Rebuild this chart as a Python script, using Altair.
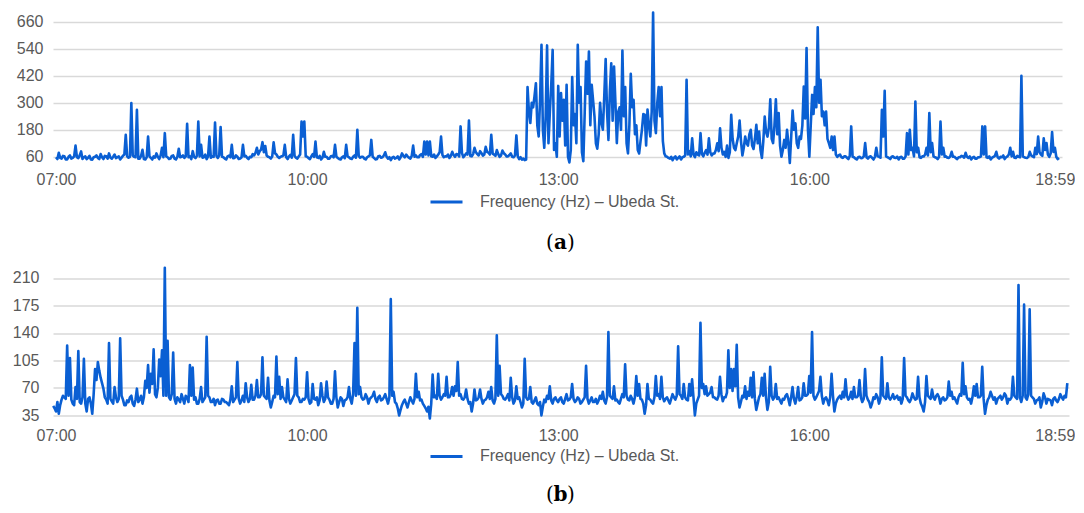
import altair as alt
import pandas as pd

SERIES = "Frequency (Hz) – Ubeda St."
BLUE = "#0a5fd3"
GRAY = "#595959"
GRID = "#d9d9d9"
FONT = "Liberation Sans"

# one sample per minute, minutes after 07:00
STEP = 1
A_START = 0
B_START = -2

A_VALUES = [
    58, 50, 78, 55, 52, 64, 62, 48, 48, 60, 66, 52, 55, 62, 110, 58, 54, 66, 84, 50,
    58, 62, 50, 56, 64, 48, 47, 58, 60, 66, 55, 50, 72, 58, 50, 64, 62, 52, 75, 56,
    52, 60, 70, 54, 58, 62, 48, 56, 65, 70, 158, 62, 56, 60, 299, 66, 60, 58, 269, 52,
    52, 64, 91, 50, 48, 58, 150, 62, 55, 48, 62, 56, 75, 60, 50, 66, 100, 58, 165, 62,
    58, 50, 52, 64, 66, 52, 48, 60, 96, 58, 60, 66, 55, 62, 207, 58, 62, 50, 85, 60,
    54, 64, 217, 62, 113, 56, 58, 70, 50, 62, 150, 56, 62, 60, 212, 64, 55, 66, 192, 60,
    58, 52, 48, 62, 65, 58, 113, 54, 55, 66, 60, 50, 52, 58, 113, 62, 64, 56, 50, 60,
    58, 72, 66, 78, 100, 70, 85, 92, 125, 80, 108, 66, 60, 58, 52, 62, 124, 76, 70, 60,
    55, 60, 62, 66, 113, 58, 50, 62, 68, 56, 158, 64, 56, 52, 62, 70, 217, 150, 217, 62,
    60, 54, 50, 62, 72, 60, 128, 58, 55, 64, 48, 56, 82, 60, 60, 52, 52, 62, 64, 58,
    113, 60, 55, 50, 48, 58, 62, 54, 113, 62, 58, 52, 50, 60, 66, 56, 180, 64, 56, 60,
    60, 52, 48, 58, 62, 66, 135, 60, 55, 48, 50, 62, 64, 56, 58, 66, 80, 60, 52, 58,
    45, 56, 60, 52, 55, 62, 48, 58, 75, 64, 58, 70, 62, 56, 52, 64, 110, 60, 66, 58,
    58, 68, 72, 60, 128, 70, 128, 66, 128, 62, 60, 70, 55, 62, 70, 80, 150, 68, 58, 62,
    62, 70, 55, 64, 82, 68, 60, 72, 70, 62, 195, 76, 58, 66, 75, 70, 221, 64, 62, 72,
    100, 80, 72, 66, 85, 76, 65, 70, 104, 82, 78, 70, 158, 74, 70, 64, 90, 72, 60, 66,
    88, 76, 70, 62, 62, 68, 75, 60, 58, 66, 155, 62, 50, 58, 47, 52, 45, 48, 370, 260,
    210, 300, 280, 330, 387, 200, 150, 320, 558, 180, 100, 240, 555, 120, 260, 380, 535, 90, 120, 60,
    375, 150, 343, 220, 313, 110, 380, 60, 35, 90, 414, 200, 250, 120, 558, 300, 370, 80, 40, 260,
    483, 340, 528, 200, 380, 310, 239, 120, 96, 160, 300, 210, 180, 330, 494, 260, 135, 350, 476, 220,
    461, 300, 121, 260, 280, 180, 532, 240, 370, 120, 75, 200, 429, 280, 313, 160, 200, 90, 75, 130,
    180, 250, 247, 110, 270, 200, 150, 260, 701, 220, 165, 300, 370, 240, 370, 130, 75, 62, 60, 55,
    52, 60, 45, 56, 62, 48, 55, 62, 48, 58, 60, 66, 402, 70, 85, 62, 142, 70, 58, 80,
    70, 66, 165, 72, 62, 78, 90, 70, 142, 80, 66, 74, 75, 90, 120, 85, 187, 100, 70, 82,
    60, 110, 55, 80, 247, 140, 100, 90, 121, 150, 221, 130, 66, 100, 150, 120, 110, 160, 180, 110,
    95, 140, 202, 120, 172, 90, 55, 130, 239, 170, 150, 190, 316, 140, 121, 200, 316, 160, 254, 110,
    60, 90, 135, 100, 180, 120, 33, 150, 266, 180, 209, 120, 100, 150, 140, 200, 372, 230, 543, 180,
    60, 200, 335, 250, 370, 280, 636, 300, 402, 240, 261, 200, 261, 140, 121, 100, 150, 90, 150, 70,
    60, 66, 70, 58, 55, 62, 62, 56, 50, 64, 195, 60, 58, 52, 48, 58, 60, 54, 55, 62,
    121, 58, 52, 60, 62, 55, 48, 60, 100, 62, 60, 56, 269, 150, 353, 62, 58, 55, 50, 60,
    62, 56, 55, 60, 48, 58, 60, 52, 52, 62, 165, 70, 180, 90, 100, 62, 306, 80, 100, 58,
    55, 62, 62, 70, 100, 66, 254, 80, 121, 62, 58, 56, 50, 60, 217, 70, 100, 60, 62, 56,
    55, 62, 82, 60, 60, 54, 50, 58, 58, 64, 62, 56, 78, 60, 55, 62, 48, 56, 60, 52,
    52, 58, 58, 62, 195, 70, 195, 58, 55, 62, 48, 56, 60, 64, 82, 58, 52, 60, 58, 66,
    50, 58, 62, 70, 100, 62, 82, 56, 55, 64, 60, 58, 420, 62, 58, 56, 55, 60, 82, 66,
    62, 58, 100, 72, 150, 80, 70, 64, 142, 90, 121, 70, 60, 76, 170, 82, 100, 60, 50, 55,
]

B_VALUES = [
    47, 44, 40, 52, 37, 48, 55, 60, 58, 56, 124, 60, 108, 55, 50, 48, 71, 56, 117, 52,
    50, 58, 107, 50, 40, 56, 58, 50, 37, 62, 94, 80, 103, 92, 83, 76, 69, 58, 55, 50,
    127, 56, 53, 50, 71, 58, 52, 56, 133, 60, 55, 48, 48, 54, 52, 58, 60, 50, 47, 55,
    69, 52, 55, 60, 50, 58, 79, 70, 99, 64, 88, 75, 119, 62, 58, 70, 106, 85, 118, 60,
    223, 60, 130, 58, 55, 62, 115, 56, 50, 58, 55, 52, 62, 56, 50, 60, 58, 52, 99, 60,
    96, 55, 58, 50, 50, 56, 71, 52, 55, 58, 135, 60, 58, 52, 52, 56, 48, 54, 55, 50,
    50, 56, 55, 52, 52, 50, 48, 55, 72, 52, 55, 58, 103, 56, 50, 54, 60, 52, 76, 58,
    52, 56, 74, 55, 55, 60, 80, 58, 58, 62, 109, 60, 58, 56, 83, 54, 45, 52, 60, 58,
    110, 62, 84, 56, 71, 58, 55, 52, 81, 56, 50, 54, 58, 62, 108, 60, 58, 52, 52, 56,
    55, 58, 90, 56, 50, 52, 75, 56, 55, 58, 48, 54, 76, 60, 52, 56, 78, 58, 55, 50,
    50, 56, 91, 58, 45, 52, 58, 56, 47, 54, 55, 58, 71, 56, 50, 62, 127, 60, 172, 62,
    71, 58, 55, 56, 62, 58, 50, 56, 58, 60, 65, 56, 52, 58, 60, 54, 55, 58, 62, 56,
    50, 58, 183, 60, 65, 52, 50, 44, 35, 42, 48, 52, 55, 50, 45, 52, 58, 54, 50, 56,
    88, 58, 65, 54, 55, 50, 47, 44, 40, 46, 31, 50, 87, 58, 60, 56, 88, 60, 55, 58,
    62, 60, 84, 58, 58, 62, 71, 60, 72, 66, 103, 60, 62, 56, 55, 58, 68, 56, 50, 52,
    40, 50, 68, 54, 55, 58, 68, 56, 50, 54, 55, 58, 65, 56, 71, 54, 50, 56, 137, 60,
    98, 62, 60, 56, 55, 58, 62, 54, 83, 58, 50, 54, 72, 56, 58, 52, 45, 50, 107, 58,
    55, 56, 71, 52, 50, 54, 58, 50, 48, 52, 35, 46, 55, 52, 60, 56, 72, 54, 50, 56,
    58, 54, 52, 56, 58, 52, 50, 56, 62, 54, 55, 58, 75, 56, 52, 54, 58, 56, 50, 52,
    55, 58, 98, 56, 50, 54, 58, 52, 52, 56, 50, 54, 60, 56, 65, 54, 50, 58, 141, 60,
    58, 56, 72, 54, 55, 52, 50, 56, 62, 58, 100, 60, 55, 54, 60, 56, 50, 58, 85, 60,
    75, 56, 55, 50, 37, 48, 75, 56, 55, 52, 50, 58, 85, 60, 62, 56, 84, 58, 53, 56,
    58, 54, 50, 56, 62, 58, 55, 60, 123, 62, 60, 56, 75, 58, 55, 54, 75, 60, 81, 58,
    35, 50, 55, 60, 153, 70, 75, 62, 72, 60, 62, 64, 71, 58, 58, 56, 55, 60, 84, 62,
    53, 58, 58, 64, 118, 70, 94, 66, 94, 72, 125, 58, 45, 52, 60, 58, 72, 56, 65, 60,
    83, 58, 90, 56, 42, 50, 58, 62, 83, 60, 88, 58, 42, 52, 97, 60, 55, 58, 75, 56,
    58, 54, 50, 56, 55, 60, 62, 56, 48, 58, 71, 56, 50, 58, 71, 54, 55, 58, 76, 60,
    60, 62, 85, 64, 141, 60, 55, 58, 62, 66, 84, 60, 50, 56, 58, 54, 48, 58, 88, 60,
    40, 50, 55, 58, 60, 56, 65, 58, 81, 60, 55, 58, 65, 56, 71, 58, 58, 60, 80, 58,
    52, 56, 94, 60, 55, 52, 45, 50, 58, 56, 62, 58, 50, 56, 109, 60, 58, 56, 76, 58,
    55, 58, 62, 56, 58, 60, 55, 58, 50, 56, 108, 60, 58, 54, 52, 56, 63, 58, 55, 56,
    84, 58, 50, 46, 40, 52, 85, 60, 58, 56, 68, 58, 55, 60, 62, 58, 50, 56, 58, 54,
    55, 58, 78, 60, 65, 56, 58, 54, 50, 58, 62, 60, 102, 62, 72, 58, 55, 56, 50, 58,
    72, 60, 75, 58, 58, 60, 97, 56, 37, 48, 55, 58, 65, 60, 55, 58, 50, 56, 58, 60,
    55, 58, 63, 60, 50, 56, 55, 58, 84, 60, 58, 56, 201, 58, 52, 60, 176, 58, 55, 62,
    170, 60, 58, 56, 50, 54, 55, 58, 45, 52, 63, 58, 50, 56, 55, 54, 48, 56, 58, 54,
    52, 56, 62, 58, 55, 60, 58, 76,
]

XTICK_MIN = [0, 180, 360, 540, 716]
XTICK_LBL = ["07:00", "10:00", "13:00", "16:00", "18:59"]
A_YTICKS = [60, 180, 300, 420, 540, 660]
B_YTICKS = [35, 70, 105, 140, 175, 210]

label_expr = " : ".join(
    f"datum.value == {m} ? '{l}'" for m, l in zip(XTICK_MIN, XTICK_LBL)
) + " : ''"


def frame(values, start):
    return pd.DataFrame({
        "minute": [start + STEP * i for i in range(len(values))],
        "value": values,
        "series": SERIES,
    })


def glyph(ch, px, py, bold):
    return alt.Chart(pd.DataFrame({"c": [ch]})).mark_text(
        font="DejaVu Serif", fontSize=20,
        fontWeight="bold" if bold else "normal",
        color="#000000", baseline="middle", align="center",
    ).encode(x=alt.value(px), y=alt.value(py), text="c:N")


def panel(df, letter, width, height, xdom, ydom, yticks, ylabpad, cap_y):
    line = alt.Chart(df).mark_line(strokeWidth=2.6, strokeJoin="round").encode(
        x=alt.X("minute:Q", title=None,
                scale=alt.Scale(domain=xdom, nice=False, zero=False),
                axis=alt.Axis(values=XTICK_MIN, labelExpr=label_expr, grid=False,
                              domain=False, ticks=False, labelPadding=8,
                              labelFontSize=16, labelColor=GRAY, labelFont=FONT)),
        y=alt.Y("value:Q", title=None,
                scale=alt.Scale(domain=ydom, nice=False, zero=False),
                axis=alt.Axis(values=yticks, grid=True, gridColor=GRID, gridWidth=1.5,
                              domain=False, ticks=False, labelPadding=ylabpad,
                              labelFontSize=16, labelColor=GRAY, labelFont=FONT,
                              minExtent=45, maxExtent=45)),
        color=alt.Color("series:N", scale=alt.Scale(range=[BLUE]),
                        legend=alt.Legend(title=None, orient="none", legendX=376,
                                          legendY=173.5, symbolType="stroke",
                                          symbolSize=1024, symbolStrokeWidth=3,
                                          labelFontSize=16, labelColor=GRAY,
                                          labelFont=FONT, labelOffset=16, padding=0,
                                          labelLimit=0)),
    )
    caption = (glyph("(", 497, cap_y, False)
               + glyph(letter, 507.5, cap_y, True)
               + glyph(")", 518, cap_y, False))
    return alt.layer(line, caption).properties(width=width, height=height)


pa = panel(frame(A_VALUES, A_START), "a", 1009, 152.1, [-2.15, 721.1], [32, 708],
           A_YTICKS, 10, 231.8)
pb = panel(frame(B_VALUES, B_START), "b", 1016, 153.9, [-2.15, 726.2], [30, 226],
           B_YTICKS, 14, 229.3)

chart = alt.vconcat(pa, pb, spacing=101.4, bounds="flush").resolve_scale(
    color="independent").resolve_legend(color="independent").properties(
    padding={"left": 0, "top": 3, "right": 0, "bottom": 0}
).configure_view(strokeWidth=0)

chart.save("out.html", embed_options={"renderer": "svg", "actions": False})
